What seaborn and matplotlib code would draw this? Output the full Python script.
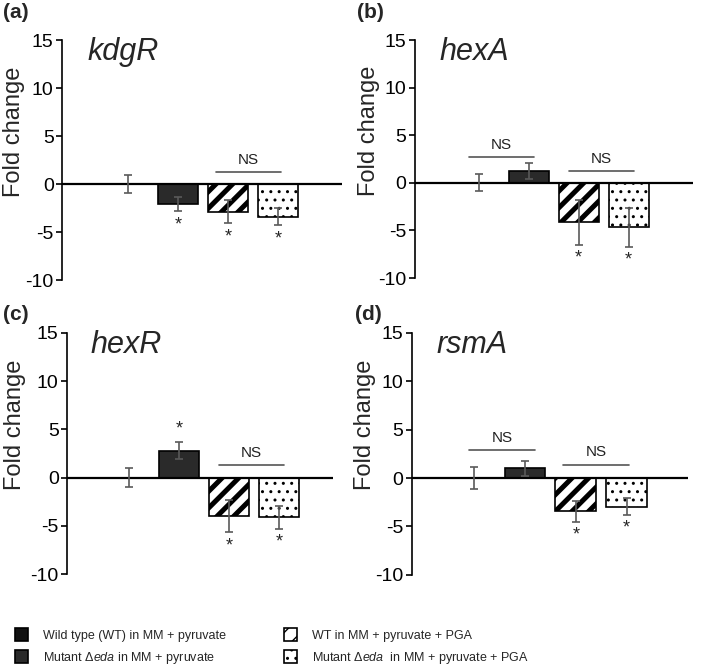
import matplotlib
matplotlib.use('Agg')
import matplotlib.pyplot as plt
from matplotlib.patches import Patch
from matplotlib import font_manager
import pandas as pd
import seaborn as sns

# Datos
conditions = ['WT', 'Mutant', 'WT + PGA', 'Mutant + PGA']
genes = ['kdgR', 'hexA', 'hexR', 'rsmA']
panel_tags = ['(a)', '(b)', '(c)', '(d)']

kdgR_mean = [0.0, -2.1, -2.9, -3.4]
kdgR_err = [0.9, 0.75, 1.2, 0.9]
hexA_mean = [0.0, 1.25, -4.15, -4.65]
hexA_err = [0.9, 0.85, 2.4, 2.05]
hexR_mean = [0.0, 2.8, -4.0, -4.1]
hexR_err = [1.0, 0.9, 1.65, 1.2]
rsmA_mean = [0.0, 1.0, -3.45, -2.95]
rsmA_err = [1.15, 0.75, 1.1, 0.87]

# barras con asterisco
kdgR_star = [1, 2, 3]
hexA_star = [2, 3]
hexR_star = [1, 2, 3]
rsmA_star = [2, 3]

# líneas NS: (desde, hasta, altura)
kdgR_ns = [(1.75, 3.05, 1.25)]
hexA_ns = [(-0.2, 1.1, 2.7), (1.8, 3.1, 1.25)]
hexR_ns = [(1.8, 3.1, 1.3)]
rsmA_ns = [(-0.1, 1.2, 2.9), (1.75, 3.05, 1.4)]

legend_labels = ['Wild type (WT) in MM + pyruvate',
                 r'Mutant $\Delta\mathit{eda}$ in MM + pyruvate',
                 'WT in MM + pyruvate + PGA',
                 r'Mutant $\Delta\mathit{eda}$  in MM + pyruvate + PGA']

means = [kdgR_mean, hexA_mean, hexR_mean, rsmA_mean]
errs = [kdgR_err, hexA_err, hexR_err, rsmA_err]
stars = [kdgR_star, hexA_star, hexR_star, rsmA_star]
ns_marks = [kdgR_ns, hexA_ns, hexR_ns, rsmA_ns]

# estilos
face_colors = ['#111111', '#2a2a2a', 'white', 'white']
hatches = ['', '', '//', '..']
positions = [[0.0875, 0.582, 0.395, 0.358],
             [0.585, 0.585, 0.392, 0.355],
             [0.0945, 0.143, 0.375, 0.360],
             [0.581, 0.142, 0.389, 0.361]]
xlims = [(-1.32, 4.28), (-1.28, 4.28), (-1.24, 4.08), (-1.22, 4.2)]
ylabel_x = [25, 380, 26, 376]   # borde derecho de la etiqueta, en px de la figura
tag_pos = [(0.004, 0.995), (0.503, 0.995), (0.004, 0.545), (0.500, 0.545)]

sns.set_style('white')
names = {f.name for f in font_manager.fontManager.ttflist}
leg_family = 'Liberation Sans Narrow' if 'Liberation Sans Narrow' in names else 'Liberation Sans'
leg_size = 11 if leg_family == 'Liberation Sans Narrow' else 9
plt.rcParams['font.family'] = ['Liberation Sans', 'DejaVu Sans']
plt.rcParams['axes.unicode_minus'] = False
plt.rcParams['mathtext.fontset'] = 'custom'
plt.rcParams['mathtext.rm'] = leg_family
plt.rcParams['mathtext.it'] = leg_family + ':italic'
plt.rcParams['hatch.linewidth'] = 1.0


def set_hatch(p, h):
    p.set_hatch(h)
    if hasattr(p, 'set_hatch_linewidth'):
        p.set_hatch_linewidth(3.6 if '/' in h else 1.0)


fig = plt.figure(figsize=(7.09, 6.70), dpi=100)

for i, gene in enumerate(genes):
    ax = fig.add_axes(positions[i])
    df = pd.DataFrame({'Condicion': conditions, 'FC': means[i]})
    sns.barplot(data=df, x='Condicion', y='FC', hue='Condicion', order=conditions,
                hue_order=conditions, palette=face_colors, edgecolor='black',
                linewidth=1.2, width=0.8, legend=False, errorbar=None, ax=ax)
    for p, h in zip(ax.patches, hatches):
        set_hatch(p, h)
    ax.errorbar(range(len(conditions)), means[i], yerr=errs[i], fmt='none',
                ecolor='#5a5a5a', elinewidth=1.2, capsize=2.6, capthick=1.2, zorder=4)
    ax.axhline(0, color='black', lw=1.6, zorder=3)

    for j in stars[i]:
        m, e = means[i][j], errs[i][j]
        if m > 0:
            ax.text(j, m + e + 0.45, '*', ha='center', va='bottom', fontsize=13)
        else:
            ax.text(j, m - e - 0.5, '*', ha='center', va='top', fontsize=13)

    for x0, x1, yy in ns_marks[i]:
        ax.plot([x0, x1], [yy, yy], color='#555555', lw=1.2)
        ax.text((x0 + x1) / 2, yy + 0.55, 'NS', ha='center', va='bottom',
                fontsize=11, color='#222222')

    ax.text(0.09, 0.95, gene, transform=ax.transAxes, fontsize=22,
            fontstyle='italic', va='center', ha='left')

    ax.set_ylim(-10, 15)
    ax.set_xlim(*xlims[i])
    ax.set_yticks([-10, -5, 0, 5, 10, 15])
    ax.set_xticks([])
    ax.set_xlabel('')
    ax.set_ylabel('Fold change', fontsize=17)
    lx = (ylabel_x[i] - positions[i][0] * 709) / (positions[i][2] * 709)
    ax.yaxis.set_label_coords(lx, 0.62)
    ax.tick_params(axis='y', labelsize=14, direction='out', length=4, width=1.2,
                   left=True, pad=2, colors='black')
    for s in ['top', 'right', 'bottom']:
        ax.spines[s].set_visible(False)
    ax.spines['left'].set_linewidth(1.2)
    ax.spines['left'].set_color('black')

    fig.text(tag_pos[i][0], tag_pos[i][1], panel_tags[i], fontsize=15,
             fontweight='bold', va='top', ha='left')

# Leyenda abajo, en dos columnas
handles = []
for c, h in zip(face_colors, hatches):
    p = Patch(facecolor=c, edgecolor='black', linewidth=1.2)
    set_hatch(p, h)
    handles.append(p)

for k, x in enumerate([0.021, 0.401]):
    fig.legend(handles[2 * k:2 * k + 2], legend_labels[2 * k:2 * k + 2],
               loc='upper left', bbox_to_anchor=(x, 0.062), frameon=False,
               prop={'family': leg_family, 'size': leg_size},
               handlelength=1.05, handleheight=1.2, handletextpad=1.2,
               labelspacing=0.6, borderpad=0, borderaxespad=0)

fig.savefig('out.png', dpi=100)
